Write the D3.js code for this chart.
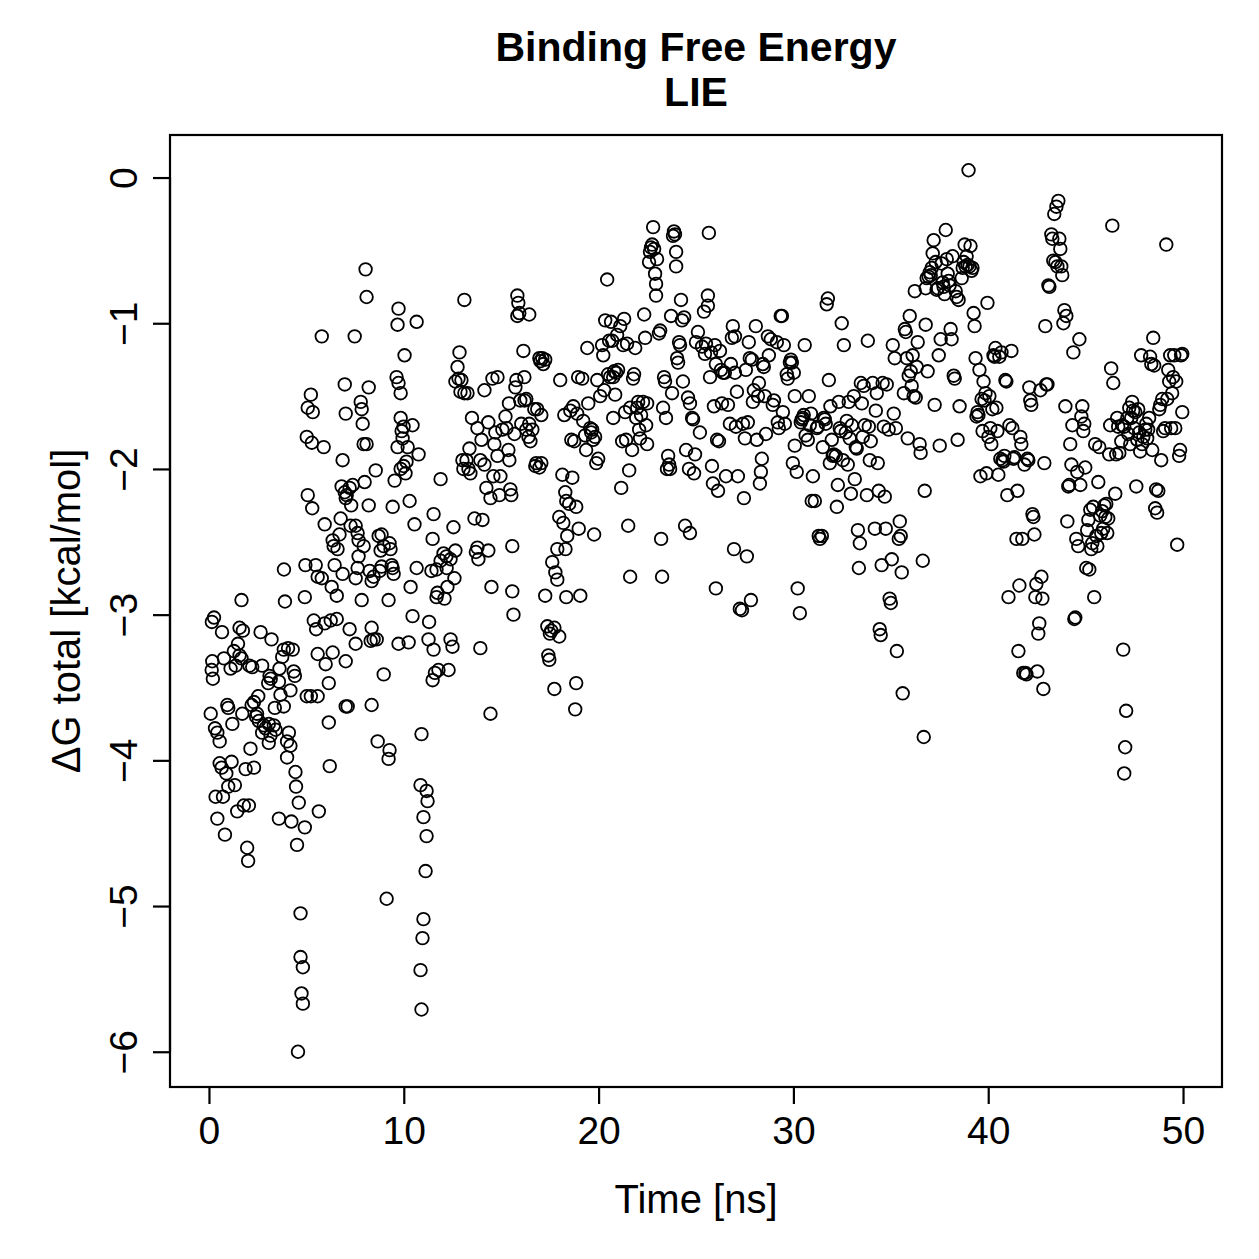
<!DOCTYPE html>
<html>
<head>
<meta charset="utf-8">
<script src="https://cdn.jsdelivr.net/npm/d3@7"></script>
<style>
html,body{margin:0;padding:0;background:#fff;}
svg{display:block;}
text{font-family:"Liberation Sans",Arial,Helvetica,sans-serif;fill:#000;}
</style>
</head>
<body>
<svg id="chart" width="1259" height="1259"></svg>
<script>
// ---- data: [time (ns), ΔG total (kcal/mol)] ----
const block00to05 = [[0.26,-3.02],[0.15,-3.05],[0.67,-3.12],[1.57,-3.09],[1.74,-3.11],[2.65,-3.12],[3.21,-3.17],[1.49,-3.20],[1.28,-3.25],[1.57,-3.28],[1.67,-3.30],[0.17,-3.32],[0.14,-3.38],[0.20,-3.44],[0.77,-3.30],[1.11,-3.37],[1.37,-3.35],[2.08,-3.35],[2.22,-3.36],[2.73,-3.35],[3.84,-3.24],[4.06,-3.23],[4.30,-3.24],[3.76,-3.29],[3.62,-3.37],[4.35,-3.39],[4.41,-3.42],[3.11,-3.42],[3.04,-3.47],[3.59,-3.46],[3.17,-3.44],[4.18,-3.52],[2.53,-3.56],[2.31,-3.60],[2.19,-3.62],[3.67,-3.55],[3.38,-3.64],[3.84,-3.63],[0.94,-3.62],[0.99,-3.64],[0.09,-3.68],[1.71,-3.68],[2.47,-3.68],[2.42,-3.70],[2.56,-3.73],[2.82,-3.76],[2.90,-3.78],[3.07,-3.75],[3.33,-3.76],[3.42,-3.79],[1.20,-3.75],[2.73,-3.81],[3.16,-3.83],[3.07,-3.88],[4.10,-3.81],[4.01,-3.87],[4.18,-3.90],[0.31,-3.78],[0.43,-3.81],[0.55,-3.87],[2.13,-3.92],[4.01,-3.98],[4.44,-4.08],[0.55,-4.02],[0.65,-4.05],[0.89,-4.09],[1.16,-4.01],[1.88,-4.06],[2.31,-4.05],[0.99,-4.18],[1.33,-4.17],[4.47,-4.18],[4.61,-4.29],[0.34,-4.25],[0.72,-4.25],[1.79,-4.31],[2.05,-4.31],[1.45,-4.35],[0.43,-4.40],[3.59,-4.40],[4.23,-4.42],[4.92,-4.46],[4.52,-4.58],[0.82,-4.51],[1.96,-4.60],[2.01,-4.69],[4.70,-5.05],[4.70,-5.35],[4.82,-5.42],[4.75,-5.60],[4.82,-5.67],[4.57,-6.00],[1.67,-2.90],[3.90,-2.91],[4.92,-2.88],[3.85,-2.69],[4.95,-2.66]];
const block05to10 = [[5.02,-3.56],[5.07,-1.58],[5.23,-1.49],[5.33,-1.61],[5.02,-1.78],[5.28,-1.82],[5.07,-2.18],[5.30,-2.27],[5.48,-2.66],[5.58,-2.74],[5.79,-2.75],[5.38,-3.04],[5.50,-3.10],[5.58,-3.27],[5.23,-3.56],[5.58,-3.56],[5.64,-4.35],[5.79,-1.09],[5.89,-1.85],[5.94,-2.38],[5.94,-3.06],[5.99,-3.34],[6.35,-2.49],[6.40,-2.53],[6.45,-2.66],[6.30,-2.81],[6.56,-2.87],[6.25,-3.04],[6.56,-3.03],[6.35,-3.26],[6.15,-3.47],[6.15,-3.74],[6.20,-4.04],[6.86,-1.94],[6.81,-2.12],[6.97,-2.16],[7.02,-2.20],[6.97,-1.42],[7.02,-1.62],[6.86,-2.72],[7.02,-3.32],[7.02,-3.63],[6.76,-2.34],[6.60,-2.55],[6.70,-2.45],[7.07,-2.18],[7.22,-2.13],[7.38,-2.11],[7.27,-2.39],[7.48,-1.09],[7.53,-2.39],[7.63,-2.44],[7.68,-2.49],[7.53,-2.75],[7.63,-2.68],[7.68,-2.60],[7.79,-1.54],[7.84,-1.59],[7.89,-1.69],[7.94,-1.83],[7.99,-2.09],[7.94,-2.53],[7.84,-2.90],[7.53,-3.20],[7.22,-3.10],[7.12,-3.63],[7.30,-2.25],[8.04,-0.63],[8.09,-0.82],[8.20,-1.44],[8.09,-1.83],[8.20,-2.25],[8.25,-2.70],[8.35,-2.77],[8.45,-2.74],[8.35,-3.09],[8.30,-3.18],[8.45,-3.17],[8.61,-3.17],[8.35,-3.62],[8.66,-3.87],[8.76,-2.70],[8.81,-2.56],[8.86,-2.45],[8.86,-2.67],[8.71,-2.46],[8.97,-2.53],[8.97,-3.41],[8.56,-2.01],[9.12,-4.95],[9.22,-3.99],[9.27,-3.93],[9.27,-2.51],[9.32,-2.55],[9.38,-2.66],[9.22,-2.90],[9.43,-2.68],[9.48,-2.72],[9.43,-2.26],[9.53,-2.08],[9.63,-1.37],[9.73,-1.41],[9.73,-0.90],[9.68,-1.01],[9.84,-1.65],[9.89,-1.74],[9.94,-1.79],[9.84,-1.48],[9.99,-1.71],[9.99,-1.98],[10.04,-1.22],[9.73,-3.20],[9.84,-2.00],[9.68,-1.85]];
const block10to15 = [[10.09,-2.03],[10.30,-2.22],[10.35,-2.81],[10.45,-3.01],[10.55,-2.38],[10.66,-0.99],[10.66,-2.68],[10.76,-1.90],[10.91,-3.82],[10.86,-4.17],[11.01,-4.39],[10.91,-5.71],[10.86,-5.44],[10.96,-5.22],[11.01,-5.09],[10.14,-1.95],[10.45,-1.70],[10.25,-3.19],[10.20,-1.85],[11.17,-4.21],[11.22,-4.28],[11.17,-4.52],[11.12,-4.76],[11.27,-3.17],[11.48,-3.45],[11.53,-3.24],[11.68,-2.69],[11.68,-2.88],[11.73,-2.85],[11.53,-2.31],[11.48,-2.48],[11.78,-3.38],[11.89,-2.07],[11.89,-2.63],[11.42,-2.70],[11.60,-3.40],[11.30,-3.05],[12.04,-2.58],[12.19,-2.60],[12.24,-2.81],[12.09,-2.89],[12.30,-3.38],[12.40,-3.17],[12.50,-3.22],[12.55,-2.40],[12.60,-2.75],[12.65,-2.56],[12.65,-1.40],[12.76,-1.30],[12.81,-1.38],[12.86,-1.20],[12.91,-1.47],[12.96,-1.39],[13.01,-1.94],[13.06,-2.00],[13.11,-0.84],[13.11,-1.48],[12.20,-2.68],[12.40,-2.62],[13.22,-1.94],[13.32,-2.00],[13.42,-2.03],[13.37,-1.86],[13.63,-2.34],[13.78,-2.54],[13.78,-1.72],[13.83,-2.62],[13.93,-3.23],[13.99,-1.80],[13.93,-1.94],[14.04,-2.35],[13.27,-1.48],[13.50,-1.65],[13.70,-2.57],[14.14,-1.46],[14.14,-1.97],[14.24,-2.13],[14.34,-2.56],[14.45,-3.68],[14.50,-2.81],[14.55,-1.38],[14.65,-1.83],[14.81,-1.37],[14.81,-1.91],[14.91,-2.18],[14.96,-2.05],[15.06,-1.73],[14.60,-2.05],[14.34,-1.68],[14.70,-1.75],[14.45,-2.20]];
const block15to20 = [[15.22,-1.64],[15.27,-1.72],[15.37,-1.87],[15.42,-1.94],[15.47,-2.14],[15.52,-2.18],[15.57,-2.53],[15.57,-2.84],[15.63,-3.00],[15.68,-1.76],[15.73,-1.44],[15.83,-0.81],[15.83,-0.95],[15.88,-0.86],[15.93,-0.93],[15.98,-1.53],[15.78,-1.39],[15.40,-1.55],[16.03,-1.69],[16.14,-1.19],[16.19,-1.37],[16.29,-1.52],[16.29,-1.73],[16.44,-0.94],[16.44,-1.69],[16.50,-1.81],[16.60,-1.73],[16.70,-1.59],[16.75,-1.98],[16.80,-1.96],[16.85,-1.59],[16.96,-1.99],[16.96,-1.24],[17.01,-1.26],[17.06,-1.96],[17.11,-1.24],[17.06,-1.63],[16.20,-1.53],[16.40,-1.78],[17.26,-1.25],[17.16,-1.28],[17.26,-2.87],[17.37,-3.08],[17.42,-3.28],[17.47,-3.31],[17.57,-3.11],[17.62,-2.64],[17.73,-3.09],[17.73,-3.51],[17.78,-2.71],[17.88,-2.55],[17.98,-2.33],[17.98,-3.15],[18.03,-1.39],[17.88,-2.76],[17.50,-3.13],[18.14,-2.04],[18.19,-2.37],[18.24,-1.63],[18.29,-2.16],[18.34,-2.22],[18.34,-2.88],[18.39,-2.46],[18.49,-2.24],[18.55,-1.60],[18.60,-1.80],[18.65,-2.06],[18.70,-1.57],[18.75,-1.81],[18.80,-3.65],[18.85,-3.47],[18.85,-2.26],[18.95,-1.37],[18.90,-1.62],[18.98,-2.41],[18.30,-2.55],[19.06,-2.87],[19.16,-1.38],[19.21,-1.67],[19.31,-1.77],[19.36,-1.87],[19.42,-1.17],[19.47,-1.55],[19.57,-1.72],[19.62,-1.75],[19.67,-1.73],[19.72,-1.80],[19.77,-2.45],[19.82,-1.78],[19.88,-1.96],[19.93,-1.39],[19.98,-1.93]];
const block20to25 = [[20.08,-1.50],[20.18,-1.15],[20.24,-1.22],[20.29,-1.46],[20.34,-0.98],[20.44,-0.70],[20.49,-1.35],[20.54,-1.12],[20.59,-1.37],[20.64,-0.99],[20.70,-1.12],[20.75,-1.37],[20.80,-1.33],[20.85,-1.49],[20.95,-1.08],[21.00,-1.32],[20.90,-1.34],[20.75,-1.65],[21.11,-1.02],[21.16,-2.13],[21.21,-1.81],[21.26,-1.15],[21.31,-0.97],[21.36,-1.61],[21.41,-1.80],[21.46,-1.14],[21.52,-2.39],[21.62,-2.74],[21.57,-2.01],[21.62,-1.58],[21.72,-1.87],[21.77,-1.38],[21.82,-1.35],[21.88,-1.17],[21.93,-1.65],[21.98,-1.58],[22.03,-1.54],[22.08,-1.73],[22.13,-1.79],[22.18,-1.63],[22.28,-1.54],[22.34,-0.94],[22.39,-1.10],[22.44,-1.70],[22.49,-1.55],[22.49,-1.83],[22.59,-0.58],[22.64,-0.51],[22.69,-0.48],[22.75,-0.46],[22.80,-0.34],[22.85,-0.49],[22.90,-0.66],[22.95,-0.81],[22.95,-0.73],[23.00,-0.56],[23.10,-1.07],[23.16,-1.05],[23.21,-2.48],[23.26,-2.74],[23.31,-1.58],[23.36,-1.37],[23.41,-1.40],[23.46,-1.65],[23.51,-2.00],[23.57,-1.91],[23.62,-1.97],[23.67,-2.00],[23.72,-0.95],[23.77,-1.48],[23.82,-0.40],[23.87,-0.37],[23.92,-0.39],[23.98,-0.51],[23.98,-0.61],[24.03,-1.24],[24.08,-1.27],[24.13,-1.13],[24.18,-1.15],[24.23,-0.84],[24.28,-0.98],[24.33,-1.40],[24.39,-0.96],[24.44,-2.39],[24.49,-1.87],[24.59,-1.51],[24.64,-2.00],[24.69,-2.44],[24.69,-1.55],[24.80,-1.65],[24.85,-1.66],[24.90,-2.03],[24.95,-1.90],[25.00,-1.13]];
const block25to30 = [[25.10,-1.06],[25.20,-1.75],[25.31,-1.16],[25.41,-0.92],[25.46,-1.21],[25.51,-1.14],[25.61,-0.81],[25.61,-0.88],[25.66,-0.38],[25.72,-1.37],[25.77,-1.20],[25.82,-1.98],[25.87,-2.10],[25.92,-1.57],[25.97,-1.15],[26.02,-2.82],[26.02,-1.28],[26.08,-1.80],[26.13,-2.15],[26.18,-1.81],[26.23,-1.19],[26.28,-1.32],[26.33,-1.55],[26.38,-1.34],[26.48,-1.34],[26.54,-2.05],[26.64,-1.56],[26.74,-1.69],[26.79,-1.28],[26.84,-1.10],[26.89,-1.02],[26.95,-2.55],[27.00,-1.09],[27.00,-1.34],[27.05,-1.71],[27.10,-1.47],[27.15,-2.05],[27.25,-2.96],[27.36,-2.97],[27.41,-1.69],[27.46,-2.20],[27.51,-1.79],[27.56,-1.32],[27.61,-2.60],[27.66,-1.68],[27.71,-1.13],[27.76,-1.24],[27.82,-2.90],[27.87,-1.25],[27.92,-1.54],[27.97,-1.46],[28.07,-1.02],[28.12,-1.80],[28.18,-1.50],[28.23,-1.41],[28.28,-2.10],[28.33,-2.02],[28.38,-1.93],[28.43,-1.28],[28.48,-1.30],[28.53,-1.50],[28.59,-1.76],[28.69,-1.09],[28.74,-1.22],[28.84,-1.11],[28.94,-1.56],[29.00,-1.53],[29.15,-1.13],[29.20,-1.68],[29.25,-1.72],[29.35,-0.95],[29.41,-0.95],[29.46,-1.61],[29.51,-1.15],[29.56,-1.69],[29.66,-1.35],[29.71,-1.38],[29.82,-1.27],[29.87,-1.25],[29.97,-1.96],[30.02,-1.34],[30.07,-1.50],[30.07,-1.84],[29.92,-1.27]];
const block30to35 = [[30.17,-2.02],[30.22,-2.82],[30.33,-2.99],[30.38,-1.68],[30.43,-1.66],[30.48,-1.65],[30.53,-1.63],[30.58,-1.15],[30.63,-1.77],[30.74,-1.80],[30.79,-1.50],[30.84,-1.70],[30.94,-2.22],[31.00,-2.05],[30.90,-1.62],[31.10,-2.22],[31.20,-1.72],[31.25,-1.71],[31.30,-2.46],[31.36,-2.48],[31.46,-2.46],[31.51,-1.85],[31.56,-1.65],[31.61,-1.66],[31.66,-1.69],[31.71,-0.87],[31.77,-0.83],[31.82,-1.39],[31.87,-1.96],[31.97,-1.80],[32.02,-1.91],[31.90,-1.57],[32.07,-1.90],[32.18,-1.91],[32.23,-2.26],[32.28,-2.11],[32.33,-1.54],[32.38,-1.72],[32.43,-1.74],[32.48,-1.00],[32.54,-1.94],[32.59,-1.15],[32.69,-1.75],[32.74,-1.67],[32.79,-1.97],[32.84,-1.54],[32.89,-1.79],[32.95,-2.17],[33.00,-1.70],[33.10,-1.50],[33.15,-2.07],[33.20,-1.85],[33.25,-1.86],[33.31,-2.42],[33.36,-2.68],[33.41,-2.51],[33.46,-1.41],[33.51,-1.55],[33.56,-1.78],[33.61,-1.43],[33.66,-1.70],[33.77,-2.18],[33.82,-1.12],[33.87,-1.71],[33.92,-1.94],[33.97,-1.81],[34.07,-1.41],[34.18,-2.41],[34.23,-1.60],[34.28,-1.48],[34.33,-1.96],[34.38,-2.15],[34.43,-3.10],[34.48,-3.14],[34.53,-2.66],[34.58,-1.41],[34.64,-1.71],[34.69,-2.19],[34.74,-2.41],[34.79,-1.42],[34.89,-1.73],[34.94,-2.89],[35.00,-2.92]];
const block35to40 = [[35.05,-2.62],[35.10,-1.15],[35.15,-1.62],[35.20,-1.24],[35.26,-1.72],[35.31,-3.25],[35.41,-2.48],[35.46,-2.36],[35.51,-2.46],[35.56,-2.71],[35.61,-3.54],[35.67,-1.48],[35.72,-1.04],[35.77,-1.06],[35.82,-1.24],[35.87,-1.79],[35.92,-1.36],[35.97,-0.95],[36.02,-1.33],[36.07,-1.43],[36.12,-1.22],[36.17,-1.50],[36.23,-0.78],[36.28,-1.51],[36.33,-1.30],[36.38,-1.13],[36.48,-1.83],[36.53,-1.89],[36.64,-2.63],[36.69,-3.84],[36.74,-2.15],[36.79,-1.01],[36.79,-0.76],[36.84,-0.69],[36.89,-1.33],[36.94,-0.68],[37.00,-0.65],[37.05,-0.67],[37.10,-0.62],[37.15,-0.52],[37.20,-0.43],[37.25,-1.56],[37.30,-0.58],[37.35,-0.77],[37.41,-0.76],[37.46,-1.22],[37.51,-1.84],[37.56,-1.11],[37.61,-0.59],[37.66,-0.72],[37.71,-0.75],[37.76,-0.80],[37.82,-0.36],[37.87,-0.56],[37.92,-0.66],[37.97,-0.71],[38.02,-0.74],[38.07,-1.04],[38.12,-1.11],[38.17,-0.54],[38.23,-1.36],[38.28,-1.38],[38.33,-0.78],[38.38,-0.82],[38.43,-1.80],[38.48,-0.84],[38.53,-1.57],[38.64,-0.69],[38.69,-0.62],[38.74,-0.58],[38.79,-0.46],[38.84,-0.61],[38.89,-0.54],[38.94,-0.60],[38.99,0.05],[39.04,-0.61],[39.09,-0.47],[39.14,-0.64],[39.19,-0.62],[39.25,-0.93],[39.30,-1.02],[39.35,-1.24],[39.40,-1.64],[39.45,-1.61],[39.50,-1.63],[39.55,-1.32],[39.60,-2.05],[39.66,-1.52],[39.71,-1.74],[39.76,-1.40],[39.81,-1.53],[39.86,-1.48],[39.91,-2.03],[39.96,-0.86],[40.01,-1.78]];
const block40to45 = [[40.06,-1.50],[40.11,-1.72],[40.16,-1.83],[40.21,-1.59],[40.27,-1.22],[40.32,-1.23],[40.37,-1.17],[40.42,-1.58],[40.47,-1.74],[40.52,-2.04],[40.57,-1.23],[40.62,-1.93],[40.68,-1.20],[40.73,-1.94],[40.78,-1.95],[40.83,-1.91],[40.88,-1.39],[40.93,-1.40],[40.98,-2.18],[41.04,-2.88],[41.09,-1.70],[41.19,-1.19],[41.24,-1.72],[41.29,-1.93],[41.34,-1.92],[41.45,-2.48],[41.50,-2.15],[41.55,-3.25],[41.60,-2.80],[41.65,-1.78],[41.70,-1.83],[41.75,-2.48],[41.80,-3.40],[41.86,-1.97],[41.91,-3.40],[41.96,-3.41],[42.01,-1.93],[42.06,-1.94],[42.11,-1.44],[42.16,-1.53],[42.21,-1.56],[42.27,-2.31],[42.32,-2.33],[42.37,-2.45],[42.42,-2.88],[42.47,-2.79],[42.52,-3.39],[42.57,-3.13],[42.62,-3.06],[42.68,-1.46],[42.73,-2.74],[42.78,-2.89],[42.83,-3.51],[42.88,-1.96],[42.93,-1.02],[42.98,-1.42],[43.04,-1.42],[43.09,-0.74],[43.14,-0.75],[43.24,-0.39],[43.29,-0.42],[43.34,-0.57],[43.39,-0.25],[43.45,-0.58],[43.50,-0.20],[43.55,-0.61],[43.60,-0.16],[43.65,-0.42],[43.70,-0.49],[43.75,-0.61],[43.80,-0.67],[43.86,-1.00],[43.91,-0.91],[43.96,-1.57],[44.01,-0.95],[44.06,-2.36],[44.11,-2.12],[44.16,-2.11],[44.21,-1.83],[44.27,-1.97],[44.32,-1.70],[44.37,-1.20],[44.42,-3.03],[44.47,-3.02],[44.52,-2.48],[44.57,-2.02],[44.62,-2.53],[44.68,-1.11],[44.73,-2.11],[44.78,-1.64],[44.83,-1.57],[44.88,-1.74],[44.93,-1.69],[44.98,-1.99]];
const block45to50 = [[45.03,-2.68],[45.08,-2.42],[45.14,-2.35],[45.19,-2.69],[45.24,-2.28],[45.29,-2.55],[45.34,-2.51],[45.39,-2.26],[45.44,-2.88],[45.49,-1.83],[45.55,-2.46],[45.60,-2.53],[45.65,-2.09],[45.70,-1.85],[45.75,-2.32],[45.80,-2.44],[45.85,-2.29],[45.90,-2.41],[45.96,-2.25],[46.01,-2.33],[46.06,-2.24],[46.11,-2.44],[46.16,-2.34],[46.21,-1.90],[46.26,-1.70],[46.31,-1.31],[46.37,-0.33],[46.42,-1.41],[46.52,-2.17],[46.57,-1.90],[46.62,-1.65],[46.67,-1.71],[46.73,-1.89],[46.83,-1.81],[46.88,-1.70],[46.93,-3.24],[46.98,-4.09],[46.98,-1.71],[47.03,-3.91],[47.08,-3.66],[47.14,-1.65],[47.19,-1.76],[47.24,-1.58],[47.29,-1.83],[47.34,-1.65],[47.39,-1.54],[47.44,-1.60],[47.49,-1.72],[47.55,-1.61],[47.60,-2.12],[47.65,-1.80],[47.70,-1.59],[47.75,-1.75],[47.80,-1.88],[47.85,-1.22],[47.90,-1.83],[47.96,-1.78],[48.06,-1.73],[48.11,-1.69],[48.16,-1.79],[48.21,-1.73],[48.26,-1.65],[48.31,-1.23],[48.37,-1.28],[48.42,-1.87],[48.47,-1.10],[48.52,-1.29],[48.57,-2.27],[48.62,-2.14],[48.67,-2.30],[48.73,-2.15],[48.78,-1.59],[48.83,-1.56],[48.88,-1.94],[48.93,-1.52],[48.98,-1.74],[49.08,-1.72],[49.14,-0.46],[49.19,-1.52],[49.24,-1.32],[49.29,-1.40],[49.34,-1.22],[49.39,-1.72],[49.44,-1.48],[49.49,-1.37],[49.55,-1.22],[49.60,-1.72],[49.65,-1.40],[49.70,-2.52],[49.80,-1.91],[49.85,-1.87],[49.90,-1.22],[49.96,-1.61],[49.96,-1.21]];

const xTicks = [0, 10, 20, 30, 40, 50];
const yTicks = [0, -1, -2, -3, -4, -5, -6];
const titleLines = ["Binding Free Energy", "LIE"];
const xLabel = "Time [ns]";
const yLabel = "ΔG total [kcal/mol]";

// ---- drawing ----
const points = [].concat(block00to05, block05to10, block10to15, block15to20, block20to25,
                         block25to30, block30to35, block35to40, block40to45, block45to50);

const W = 1259, H = 1259;
const box = {left: 170, right: 1222, top: 135, bottom: 1087};
const FONT = '"Liberation Sans",Arial,sans-serif';

function padded(ext) { const r = ext[1] - ext[0]; return [ext[0] - 0.04 * r, ext[1] + 0.04 * r]; }

const x = d3.scaleLinear().domain(padded([0, 50])).range([box.left, box.right]);
const y = d3.scaleLinear().domain(padded(d3.extent(points, d => d[1]))).range([box.bottom, box.top]);

const svg = d3.select("#chart");
svg.append("rect").attr("width", W).attr("height", H).attr("fill", "#fff");

// points
svg.append("g")
  .selectAll("circle")
  .data(points)
  .join("circle")
  .attr("cx", d => x(d[0]))
  .attr("cy", d => y(d[1]))
  .attr("r", 6.3)
  .attr("fill", "none")
  .attr("stroke", "#000")
  .attr("stroke-width", 1.8);

// box
svg.append("rect")
  .attr("x", box.left).attr("y", box.top)
  .attr("width", box.right - box.left).attr("height", box.bottom - box.top)
  .attr("fill", "none").attr("stroke", "#000").attr("stroke-width", 2.2);

// x axis
const xAxis = d3.axisBottom(x).tickValues(xTicks).tickSize(17).tickPadding(12).tickFormat(d3.format("d"));
const gx = svg.append("g").attr("transform", `translate(0,${box.bottom})`).call(xAxis);
gx.select(".domain").attr("d", `M${x(xTicks[0])},0H${x(xTicks[xTicks.length-1])}`).attr("stroke-width", 2.2);
gx.selectAll(".tick line").attr("stroke-width", 2.2);
gx.selectAll(".tick text").attr("font-size", 39).attr("font-family", FONT).attr("fill", "#000");

// y axis
const yAxis = d3.axisLeft(y).tickValues(yTicks).tickSize(17).tickFormat(d3.format("d"));
const gy = svg.append("g").attr("transform", `translate(${box.left},0)`).call(yAxis);
gy.select(".domain").attr("d", `M0,${y(yTicks[yTicks.length-1])}V${y(yTicks[0])}`).attr("stroke-width", 2.2);
gy.selectAll(".tick line").attr("stroke-width", 2.2);
gy.selectAll(".tick text")
  .attr("font-size", 39).attr("font-family", FONT).attr("fill", "#000")
  .attr("x", null).attr("dy", null)
  .attr("text-anchor", "middle")
  .attr("transform", "translate(-33,0) rotate(-90)");

// title
svg.append("text").attr("x", (box.left + box.right) / 2).attr("y", 61)
  .attr("text-anchor", "middle").attr("font-size", 41).attr("font-weight", "bold").text(titleLines[0]);
svg.append("text").attr("x", (box.left + box.right) / 2).attr("y", 106)
  .attr("text-anchor", "middle").attr("font-size", 41).attr("font-weight", "bold").text(titleLines[1]);

// axis labels
svg.append("text").attr("x", (box.left + box.right) / 2).attr("y", 1213)
  .attr("text-anchor", "middle").attr("font-size", 40).text(xLabel);
svg.append("text").attr("transform", `translate(80,${(box.top + box.bottom) / 2}) rotate(-90)`)
  .attr("text-anchor", "middle").attr("font-size", 40).text(yLabel);
</script>
</body>
</html>
